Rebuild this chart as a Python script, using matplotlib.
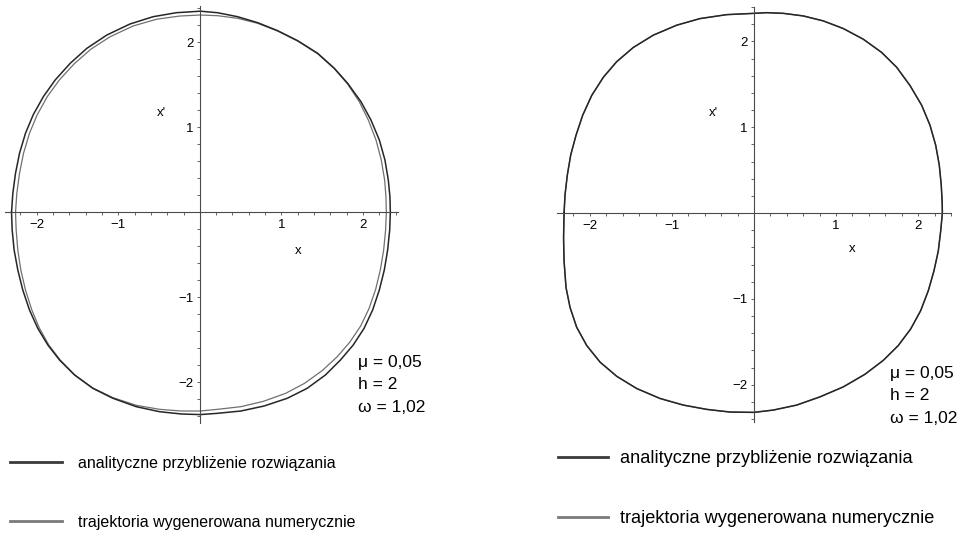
import numpy as np
import matplotlib.pyplot as plt
from matplotlib.lines import Line2D

# --- lewy panel: krzywa analityczna (zewnetrzna, ciemna) ---
lewy_anal_x = [-2.310, -2.294, -2.261, -2.212, -2.139, -2.045, -1.920, -1.775, -1.590, -1.386,
               -1.140, -0.858, -0.574, -0.289, 0.005,
               0.217, 0.463, 0.708, 0.953, 1.199, 1.444, 1.649, 1.812, 1.976, 2.098,
               2.201, 2.270, 2.311, 2.331, 2.336,
               2.328, 2.303, 2.262, 2.201, 2.119, 2.014, 1.881, 1.724, 1.540, 1.316,
               1.073, 0.788, 0.503, 0.217, 0.005,
               -0.228, -0.494, -0.780, -1.067, -1.313, -1.537, -1.721, -1.865, -1.988, -2.090,
               -2.172, -2.233, -2.278, -2.302, -2.310]
lewy_anal_y = [0.000, 0.223, 0.459, 0.694, 0.929, 1.145, 1.360, 1.556, 1.753, 1.929,
               2.086, 2.215, 2.301, 2.348, 2.366,
               2.348, 2.301, 2.231, 2.137, 2.019, 1.871, 1.694, 1.518, 1.301, 1.086,
               0.851, 0.615, 0.380, 0.184, 0.000,
               -0.208, -0.444, -0.679, -0.914, -1.149, -1.365, -1.561, -1.738, -1.914, -2.071,
               -2.188, -2.279, -2.338, -2.365, -2.380,
               -2.373, -2.346, -2.287, -2.188, -2.071, -1.914, -1.738, -1.561, -1.365, -1.149,
               -0.914, -0.679, -0.444, -0.208, 0.000]

# --- lewy panel: trajektoria numeryczna (wewnetrzna, szara) ---
lewy_num_x = [-2.261, -2.245, -2.212, -2.163, -2.090, -1.996, -1.872, -1.724, -1.543, -1.338,
              -1.100, -0.818, -0.532, -0.248, 0.005,
              0.217, 0.463, 0.708, 0.953, 1.199, 1.444, 1.649, 1.812, 1.955, 2.066,
              2.160, 2.225, 2.266, 2.282, 2.287,
              2.278, 2.254, 2.213, 2.156, 2.074, 1.972, 1.840, 1.685, 1.500, 1.284,
              1.052, 0.780, 0.503, 0.217, 0.005,
              -0.228, -0.494, -0.780, -1.067, -1.313, -1.534, -1.713, -1.853, -1.967, -2.061,
              -2.139, -2.196, -2.233, -2.253, -2.261]
lewy_num_y = [0.000, 0.223, 0.459, 0.694, 0.929, 1.145, 1.360, 1.556, 1.745, 1.918,
              2.066, 2.192, 2.271, 2.309, 2.321,
              2.313, 2.282, 2.224, 2.133, 2.015, 1.866, 1.690, 1.509, 1.301, 1.086,
              0.851, 0.615, 0.380, 0.184, 0.000,
              -0.208, -0.444, -0.679, -0.906, -1.134, -1.338, -1.526, -1.699, -1.863, -2.012,
              -2.130, -2.224, -2.287, -2.318, -2.338,
              -2.338, -2.318, -2.271, -2.181, -2.067, -1.914, -1.738, -1.561, -1.365, -1.149,
              -0.914, -0.679, -0.444, -0.208, 0.000]

# --- prawy panel: obie krzywe praktycznie sie pokrywaja ---
prawy_x = [-2.314, -2.302, -2.274, -2.233, -2.168, -2.087, -1.977, -1.835, -1.672, -1.470,
           -1.227, -0.942, -0.658, -0.333, 0.000,
           0.155, 0.357, 0.600, 0.844, 1.088, 1.331, 1.555, 1.738, 1.900, 2.043,
           2.144, 2.213, 2.257, 2.281, 2.292, 2.295,
           2.274, 2.245, 2.192, 2.123, 2.030, 1.909, 1.758, 1.575, 1.352, 1.088,
           0.804, 0.520, 0.235, 0.000,
           -0.292, -0.576, -0.861, -1.145, -1.429, -1.672, -1.876, -2.038, -2.160, -2.241,
           -2.290, -2.314, -2.320, -2.314]
prawy_y = [0.000, 0.213, 0.444, 0.676, 0.907, 1.139, 1.370, 1.582, 1.764, 1.929,
           2.072, 2.188, 2.265, 2.311, 2.326,
           2.334, 2.326, 2.296, 2.238, 2.149, 2.025, 1.871, 1.698, 1.486, 1.255,
           1.023, 0.792, 0.560, 0.329, 0.135, 0.000,
           -0.212, -0.443, -0.675, -0.906, -1.138, -1.350, -1.543, -1.716, -1.878, -2.025,
           -2.141, -2.237, -2.295, -2.322,
           -2.318, -2.287, -2.237, -2.160, -2.044, -1.902, -1.736, -1.543, -1.331, -1.100,
           -0.868, -0.559, -0.289, 0.000]

TICKS = [-2, -1, 1, 2]
PARAMS = "μ = 0,05\nh = 2\nω = 1,02"
LEG_LABELS = ["analityczne przybliżenie rozwiązania", "trajektoria wygenerowana numerycznie"]

C_ANAL = "#262626"
C_NUM = "#707070"
C_AX = "#4a4a4a"

plt.rcParams["font.family"] = ["Liberation Sans", "DejaVu Sans"]

fig = plt.figure(figsize=(9.64, 5.4), dpi=100)
W, H = 964, 540


def panel(rect_px, xlim, ylim, num_x, num_y, anal_x, anal_y, xp_pos, x_pos, par_pos):
    x0, y0, x1, y1 = rect_px
    ax = fig.add_axes([x0 / W, 1 - y1 / H, (x1 - x0) / W, (y1 - y0) / H])
    ax.plot(num_x, num_y, color=C_NUM, lw=0.9, solid_joinstyle="round")
    ax.plot(anal_x, anal_y, color=C_ANAL, lw=1.1, solid_joinstyle="round")
    ax.set_xlim(*xlim)
    ax.set_ylim(*ylim)
    for s in ["top", "right"]:
        ax.spines[s].set_visible(False)
    for s in ["left", "bottom"]:
        ax.spines[s].set_position("zero")
        ax.spines[s].set_color(C_AX)
        ax.spines[s].set_linewidth(0.8)
    ax.set_xticks(TICKS)
    ax.set_yticks(TICKS)
    ax.set_xticks(np.arange(-2.2, 2.41, 0.2), minor=True)
    ax.set_yticks(np.arange(-2.4, 2.41, 0.2), minor=True)
    ax.tick_params(which="both", direction="out", length=2.2, width=0.6, color=C_AX,
                   labelsize=9.5, pad=2.5)
    ax.patch.set_alpha(0)
    ax.text(*xp_pos, "x'", fontsize=9.5, ha="center", va="center")
    ax.text(*x_pos, "x", fontsize=9.5, ha="center", va="center")
    ax.text(*par_pos, PARAMS, fontsize=12.5, ha="left", va="center", linespacing=1.62)
    return ax


panel((5, 6, 398, 423), (-2.39, 2.43), (-2.479, 2.427),
      lewy_num_x, lewy_num_y, lewy_anal_x, lewy_anal_y,
      (-0.47, 1.17), (1.21, -0.45), (1.935, -2.03))
panel((557, 7, 951, 422), (-2.40, 2.40), (-2.434, 2.369),
      prawy_x, prawy_y, prawy_x, prawy_y,
      (-0.50, 1.17), (1.19, -0.42), (1.656, -2.13))

uchwyty = [Line2D([], [], color="#3a3a3a", lw=2.0), Line2D([], [], color="#7a7a7a", lw=2.0)]

fig.legend(uchwyty, LEG_LABELS, loc="upper left", bbox_to_anchor=(10 / W, 1 - 456 / H),
           frameon=False, borderpad=0, borderaxespad=0, handlelength=3.25, handletextpad=1.0,
           labelspacing=2.74, prop={"size": 11.55})
fig.legend(uchwyty, LEG_LABELS, loc="upper left", bbox_to_anchor=(558 / W, 1 - 450 / H),
           frameon=False, borderpad=0, borderaxespad=0, handlelength=2.75, handletextpad=0.66,
           labelspacing=2.36, prop={"size": 13.1})

fig.savefig("out.png", dpi=100)
